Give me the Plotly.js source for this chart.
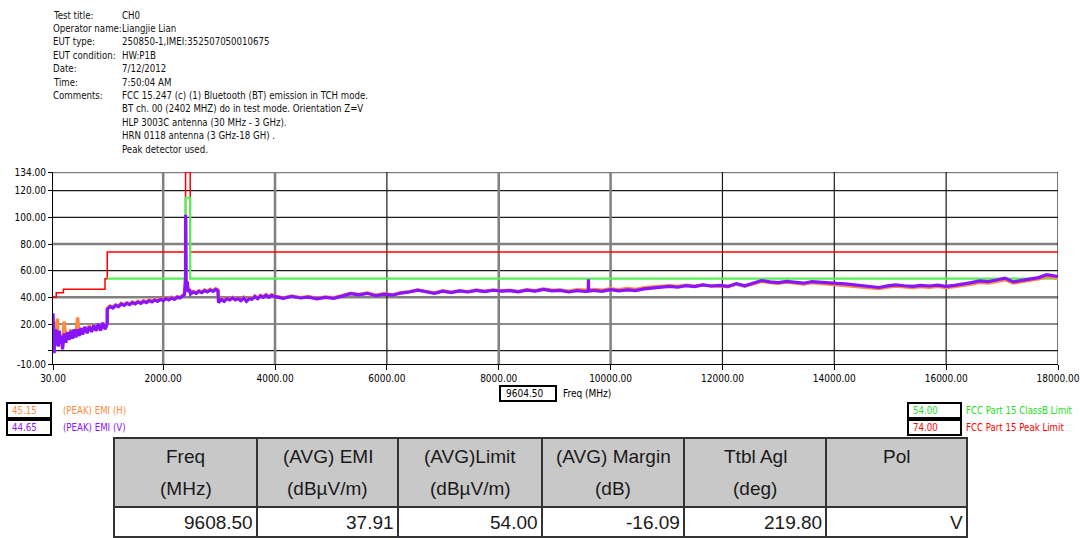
<!DOCTYPE html>
<html><head><meta charset="utf-8">
<script src="https://cdn.plot.ly/plotly-3.0.1.min.js"></script>
<style>html,body{margin:0;padding:0;background:#fff;} #chart{width:1080px;height:538px;}</style>
</head><body><div id="chart"></div><script>
// ---------- header info ----------
const infoLabels = ['Test title:', 'Operator name:', 'EUT type:', 'EUT condition:', 'Date:', 'Time:', 'Comments:', '', '', '', ''];
const infoValues = ['CH0', 'Liangjie Lian', '250850-1,IMEI:352507050010675', 'HW:P1B', '7/12/2012', '7:50:04 AM',
  'FCC 15.247 (c) (1) Bluetooth (BT) emission in TCH mode.',
  'BT ch. 00 (2402 MHZ) do in test mode. Orientation Z=V',
  'HLP 3003C antenna (30 MHz - 3 GHz).',
  'HRN 0118 antenna (3 GHz-18 GH) .',
  'Peak detector used.'];

// ---------- axes ----------
const xTickVals = [30, 2000, 4000, 6000, 8000, 10000, 12000, 14000, 16000, 18000];
const xTickText = ['30.00', '2000.00', '4000.00', '6000.00', '8000.00', '10000.00', '12000.00', '14000.00', '16000.00', '18000.00'];
const yTickVals = [-10, 0, 20, 40, 60, 80, 100, 120, 134];
const yTickText = ['-10.00', '', '20.00', '40.00', '60.00', '80.00', '100.00', '120.00', '134.00'];
const xAxisTitle = 'Freq (MHz)';
const cursorFreq = '9604.50';

// ---------- limits ----------
const peakLimitFreq = [30, 88, 88, 216, 216, 960, 960, 1000, 1000, 2400, 2400, 2483.5, 2483.5, 18000];
const peakLimitVal  = [40, 40, 43.5, 43.5, 46, 46, 54, 54, 74, 74, 134, 134, 74, 74];
const classBFreq = [1000, 2400, 2400, 2483.5, 2483.5, 18000];
const classBVal  = [54, 54, 114.7, 114.7, 54, 54];

// ---------- measured EMI (dBuV/m) ----------
const freqMHz = [
  30, 35, 42, 50, 60, 70, 80, 95, 110, 125, 140, 160, 180, 200, 230, 260, 290, 320, 350, 380, 410, 440, 470, 500, 530, 560, 600, 640, 680, 720, 760, 800, 840, 880, 920, 960, 999,
  1001, 1050, 1100, 1150, 1200, 1250, 1300, 1350, 1400, 1450, 1500, 1550, 1600, 1650, 1700, 1750, 1800, 1850, 1900, 1950, 2000, 2050, 2100, 2150, 2200, 2250, 2300, 2350, 2380, 2395, 2400, 2402, 2404, 2410, 2430, 2450, 2470, 2490, 2540, 2590, 2640, 2690, 2740, 2790, 2840, 2890, 2940, 2980,
  2990, 3040, 3090, 3140, 3190, 3240, 3290, 3340, 3390, 3440, 3490, 3540, 3590, 3640, 3690, 3740, 3790, 3840, 3890, 3940,
  4000, 4150, 4300, 4450, 4600, 4750, 4900, 5050, 5200, 5350, 5500, 5650, 5800, 5950, 6100, 6250, 6400, 6550, 6700, 6850, 7000, 7150, 7300, 7450, 7600, 7750, 7900, 8050, 8200, 8350, 8500, 8650, 8800, 8950, 9100, 9250, 9400, 9550, 9600, 9604.5, 9609, 9700, 9850,
  10000, 10150, 10300, 10450, 10600, 10750, 10900, 11050, 11200, 11350, 11500, 11650, 11800, 11950, 12100, 12250, 12400, 12550, 12700, 12850, 13000, 13150, 13300, 13450, 13600, 13750, 13900, 14050, 14200, 14350, 14500, 14650, 14800, 14950, 15100, 15250, 15400, 15550, 15700, 15850, 16000, 16150, 16300, 16450, 16600, 16750, 16900, 17050, 17200, 17350, 17500, 17650, 17800, 17950, 18000];

const emiV = [
  28, 2, 18, -2, 14, 4, 16, 6, 12, 3, 15, 5, 11, 1, 13, 6, 14, 8, 15, 9, 16, 10, 16, 11, 17, 12, 18, 13, 18, 14, 19, 15, 20, 15, 21, 16, 20,
  31, 33, 32, 34, 33, 35, 34, 35.5, 34.5, 36, 35, 36.5, 35.5, 37, 36, 37.5, 36.5, 38, 37, 38.5, 37.5, 39, 38, 39.5, 38.5, 40, 39.5, 41, 42, 50, 56, 102, 55, 48, 52, 44, 46, 42.5, 44, 43, 44.5, 43.5, 45, 44, 45.5, 44.5, 46, 45,
  36, 38.5, 37, 39, 38, 39.5, 38, 39, 37.5, 39.5, 37, 39, 38.5, 40.5, 39, 41, 40, 41.5, 40, 41.5,
  40.5, 39.2, 40.8, 39.5, 40.2, 38.8, 40.0, 39.3, 40.9, 42.8, 41.8, 43.0, 41.2, 42.4, 41.6, 43.2, 44.0, 45.4, 44.2, 43.0, 44.6, 43.6, 44.8, 44.0, 45.2, 44.3, 45.3, 44.6, 45.0, 44.1, 45.4, 44.7, 46.0, 44.9, 45.2, 44.0, 45.0, 44.4, 44.8, 53.6, 44.6, 45.1, 44.5,
  45.8, 44.9, 45.6, 45.0, 46.3, 46.9, 47.6, 48.2, 47.6, 48.8, 48.0, 49.3, 48.5, 48.9, 48.2, 50.3, 48.7, 50.8, 52.6, 51.6, 51.0, 52.0, 51.4, 50.6, 51.8, 51.2, 50.9, 50.4, 50.1, 49.3, 49.0, 48.2, 47.4, 48.6, 49.3, 48.7, 48.3, 49.0, 48.5, 49.1, 48.2, 49.0, 49.8, 51.0, 52.3, 51.8, 53.0, 54.4, 51.6, 52.6, 53.6, 54.8, 57.0, 55.8, 55.6];

const emiH = [
  24, 5, 20, 1, 22, 6, 15, 8, 24, 5, 14, 7, 12, 3, 22, 8, 13, 9, 16, 10, 15, 12, 25, 12, 16, 13, 17, 14, 19, 15, 18, 16, 19, 16, 20, 17, 21,
  32, 33.5, 32.5, 34.5, 33.5, 35.5, 34.5, 36, 35, 36.5, 35.5, 37, 36, 37.5, 36.5, 38, 37, 38.5, 37.5, 39, 38, 39.5, 38.5, 40, 39, 40.5, 40, 41.5, 42.5, 49, 54, 100, 53, 47, 50, 44.5, 46.5, 43, 44.5, 43.5, 45, 44, 45.5, 44.5, 46, 45, 46.5, 45.5,
  36.5, 39, 37.5, 39.5, 38.5, 40, 38.5, 39.5, 38, 40, 37.5, 39.5, 39, 41, 39.5, 41.5, 40.5, 42, 40.5, 42,
  40.8, 39.6, 41.0, 39.8, 40.6, 39.2, 40.3, 39.7, 41.2, 43.0, 42.1, 43.3, 41.6, 42.7, 41.9, 43.5, 44.3, 45.6, 44.5, 43.4, 44.9, 43.9, 45.0, 44.3, 45.5, 44.6, 45.6, 44.9, 45.3, 44.5, 45.7, 45.0, 46.2, 45.3, 45.6, 44.6, 45.7, 45.0, 45.2, 45.1, 45.3, 45.9, 45.4,
  46.5, 45.8, 46.6, 46.0, 47.2, 47.8, 48.3, 48.8, 48.1, 49.0, 48.3, 49.3, 48.4, 48.7, 48.0, 49.9, 48.4, 50.3, 52.0, 51.1, 50.5, 51.4, 50.8, 50.0, 51.1, 50.5, 50.1, 49.6, 49.2, 48.4, 48.1, 47.3, 46.6, 47.7, 48.4, 47.8, 47.4, 48.1, 47.6, 48.2, 47.3, 48.1, 48.8, 50.0, 51.3, 50.8, 52.0, 53.2, 50.7, 51.7, 52.6, 53.8, 55.6, 54.6, 54.4];

// ---------- legends ----------
const traceNames = ['(PEAK) EMI (H)', '(PEAK) EMI (V)'];
const traceReadouts = ['45.15', '44.65'];
const limitNames = ['FCC Part 15 ClassB Limit', 'FCC Part 15 Peak Limit'];
const limitReadouts = ['54.00', '74.00'];

// ---------- table ----------
const tableHead1 = ['Freq', '(AVG) EMI', '(AVG)Limit', '(AVG) Margin', 'Ttbl Agl', 'Pol'];
const tableHead2 = ['(MHz)', '(dBµV/m)', '(dBµV/m)', '(dB)', '(deg)', ''];
const tableRow = ['9608.50', '37.91', '54.00', '-16.09', '219.80', 'V'];

// ---------- geometry helpers ----------
const L = 53, R = 1058, T = 172, B = 364;
const px = x => (x - L) / (R - L);
const py = y => (B - y) / (B - T);
const NARROW = '"DejaVu Sans Condensed", "Liberation Sans Narrow", "Liberation Sans", sans-serif';
const SANS = '"Liberation Sans", Arial, sans-serif';
const colH = '#ff8a3d', colV = '#8a14ff', colRed = '#ff0000', colGreen = '#55ee55', colGreenText = '#22dd22';

const annotations = [];
const shapes = [];
function ann(text, x, y, xanchor, font) {
  annotations.push({text: text, x: px(x), y: py(y), xref: 'paper', yref: 'paper', xanchor: xanchor, yanchor: 'middle',
    showarrow: false, borderpad: 0, font: font});
}
function rect(x0, y0, x1, y1, line, fill) {
  shapes.push({type: 'rect', xref: 'paper', yref: 'paper', x0: px(x0), x1: px(x1), y0: py(y0), y1: py(y1),
    line: line, fillcolor: fill || 'rgba(0,0,0,0)', layer: 'above'});
}
function seg(x0, y0, x1, y1, line) {
  shapes.push({type: 'line', xref: 'paper', yref: 'paper', x0: px(x0), x1: px(x1), y0: py(y0), y1: py(y1), line: line, layer: 'above'});
}

// header
const headFont = {family: NARROW, size: 9.6, color: '#111'};
infoLabels.forEach((t, i) => { if (t) ann(t, 52, 15 + 13.4 * i, 'left', headFont); });
infoValues.forEach((t, i) => ann(t, 121, 15 + 13.4 * i, 'left', headFont));

// grid lines drawn below the traces (grey thick ones and thin black ones)
const greyY = [134, 80, 40];
const greyX = [2000, 4000, 8000, 10000];
yTickVals.slice(1).forEach(v => shapes.push({type: 'line', xref: 'paper', yref: 'y', x0: 0, x1: 1, y0: v, y1: v,
  line: greyY.includes(v) ? {color: '#808080', width: 2.5} : {color: '#1a1a1a', width: 1.2}, layer: 'below'}));
xTickVals.slice(1).forEach(v => shapes.push({type: 'line', xref: 'x', yref: 'paper', x0: v, x1: v, y0: 0, y1: 1,
  line: greyX.includes(v) ? {color: '#808080', width: 2.5} : {color: '#1a1a1a', width: 1.2}, layer: 'below'}));

// cursor box + axis title
rect(500, 386, 556, 401, {color: '#000', width: 2});
ann(cursorFreq, 505, 393.5, 'left', {family: NARROW, size: 10, color: '#000'});
ann(xAxisTitle, 562, 393.5, 'left', {family: NARROW, size: 10, color: '#000'});

// trace readouts (left)
[colH, colV].forEach((c, i) => {
  const y0 = 403 + 17 * i;
  rect(7, y0, 51, y0 + 15, {color: '#000', width: 2}, '#fff');
  ann(traceReadouts[i], 11, y0 + 7.5, 'left', {family: NARROW, size: 9.6, color: c});
  ann(traceNames[i], 62, y0 + 7.5, 'left', {family: NARROW, size: 9.6, color: c});
});
// limit readouts (right)
[colGreenText, colRed].forEach((c, i) => {
  const y0 = 403 + 17 * i;
  rect(908, y0, 961, y0 + 15, {color: '#000', width: 2}, '#fff');
  ann(limitReadouts[i], 912, y0 + 7.5, 'left', {family: NARROW, size: 9.6, color: c});
  ann(limitNames[i], 965, y0 + 7.5, 'left', {family: NARROW, size: 9.6, color: c});
});

// table
const colEdges = [114, 257, 398, 542, 684, 826, 967];
const tTop = 438, tMid = 507, tBot = 537;
rect(colEdges[0], tTop, colEdges[6], tMid, {color: '#333', width: 2}, '#c8c8c8');
rect(colEdges[0], tMid, colEdges[6], tBot, {color: '#333', width: 2}, '#ffffff');
for (let i = 1; i < 6; i++) seg(colEdges[i], tTop, colEdges[i], tBot, {color: '#333', width: 2});
const tFont = {family: SANS, size: 19, color: '#1a1a1a'};
tableHead1.forEach((t, i) => {
  const cx = (colEdges[i] + colEdges[i + 1]) / 2;
  ann(t, cx, 456, 'center', tFont);
  if (tableHead2[i]) ann(tableHead2[i], cx, 488, 'center', tFont);
  ann(tableRow[i], colEdges[i + 1] - 3, 522, 'right', tFont);
});

const traces = [
  {x: peakLimitFreq, y: peakLimitVal, mode: 'lines', line: {color: colRed, width: 1.5}, name: limitNames[1]},
  {x: classBFreq, y: classBVal, mode: 'lines', line: {color: colGreen, width: 2.2}, name: limitNames[0]},
  {x: freqMHz, y: emiH, mode: 'lines', line: {color: colH, width: 3.4}, name: traceNames[0]},
  {x: freqMHz, y: emiV, mode: 'lines', line: {color: colV, width: 3.2}, name: traceNames[1]}
];

const layout = {
  width: 1080, height: 538,
  margin: {l: 53, r: 22, t: 172, b: 174},
  paper_bgcolor: '#fff', plot_bgcolor: 'rgba(0,0,0,0)',
  showlegend: false,
  xaxis: {range: [30, 18000], tickvals: xTickVals, ticktext: xTickText, ticks: 'outside', ticklen: 5, tickcolor: '#000',
    showline: true, linecolor: '#000', linewidth: 1, showgrid: false, zeroline: false,
    tickfont: {family: NARROW, size: 10, color: '#000'}},
  yaxis: {range: [-10, 134], tickvals: yTickVals, ticktext: yTickText, ticks: 'outside', ticklen: 4, tickcolor: '#000',
    showline: true, linecolor: '#000', linewidth: 1, showgrid: false, zeroline: false,
    tickfont: {family: NARROW, size: 10, color: '#000'}},
  annotations: annotations,
  shapes: shapes
};
Plotly.newPlot('chart', traces, layout, {staticPlot: true, displayModeBar: false});
</script></body></html>
